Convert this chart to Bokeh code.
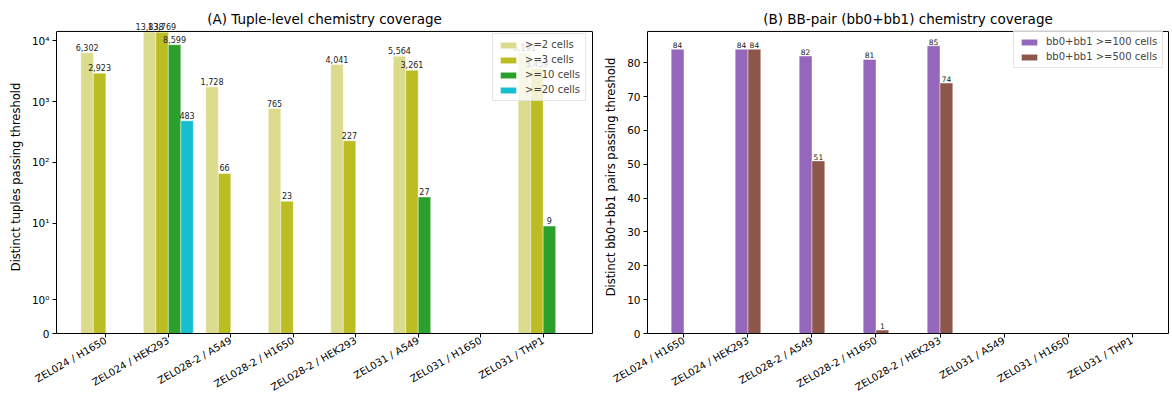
import numpy as np
from bokeh.plotting import figure
from bokeh.models import (ColumnDataSource, FixedTicker, LabelSet, Legend,
                          LegendItem, Range1d, Span, LinearAxis)
from bokeh.core.properties import value
from bokeh.layouts import row
from bokeh.embed import file_html
from bokeh.resources import INLINE

# ---------------- data ----------------
categories = ["ZEL024 / H1650", "ZEL024 / HEK293", "ZEL028-2 / A549",
              "ZEL028-2 / H1650", "ZEL028-2 / HEK293", "ZEL031 / A549",
              "ZEL031 / H1650", "ZEL031 / THP1"]

tuple_ge2 = [6302, 13838, 1728, 765, 4041, 5564, 0, 6191]
tuple_ge3 = [2923, 13769, 66, 23, 227, 3261, 0, 3459]
tuple_ge10 = [0, 8599, 0, 0, 0, 27, 0, 9]
tuple_ge20 = [0, 483, 0, 0, 0, 0, 0, 0]
tuple_series = [">=2 cells", ">=3 cells", ">=10 cells", ">=20 cells"]

pair_ge100 = [84, 84, 82, 81, 85, 0, 0, 0]
pair_ge500 = [0, 84, 51, 1, 74, 0, 0, 0]
pair_series = ["bb0+bb1 >=100 cells", "bb0+bb1 >=500 cells"]

left_ticks = [0, 1, 10, 100, 1000, 10000]
left_tick_labels = ["0", "10\u2070", "10\u00b9", "10\u00b2", "10\u00b3", "10\u2074"]
right_ticks = [0, 10, 20, 30, 40, 50, 60, 70, 80]

# ---------------- styling ----------------
FONT = "DejaVu Sans"
tuple_colors = ["#dbdb8d", "#bcbd22", "#2ca02c", "#17becf"]
pair_colors = ["#9467bd", "#8c564b"]

HEIGHT = 400
TOP = 20        # canvas top -> (invisible) extended frame top
BOTTOM = 66     # frame bottom -> canvas bottom
EXTRA = 11      # px of headroom above the drawn axes box for bar labels
FRAME_H = HEIGHT - TOP - BOTTOM
BOX_H = FRAME_H - EXTRA

LINTHRESH = 2.0
LINSCALE_ADJ = 1.0 / (1.0 - 1.0 / 10.0)


def symlog(v):
    v = np.asarray(v, dtype=float)
    return np.where(v <= LINTHRESH, v * LINSCALE_ADJ,
                    LINTHRESH * (LINSCALE_ADJ + np.log10(np.maximum(v, 1e-12) / LINTHRESH)))


def make_fig(title, width, xr, ytop, left, right):
    p = figure(width=width, height=HEIGHT, output_backend="svg",
               toolbar_location=None, title=title, x_range=Range1d(*xr),
               y_range=Range1d(0, ytop * FRAME_H / BOX_H),
               min_border_left=left, min_border_right=right,
               min_border_top=TOP, min_border_bottom=BOTTOM)
    p.title.text_font = FONT
    p.title.text_font_size = "13.5px"
    p.title.text_font_style = "normal"
    p.title.align = "center"
    p.title.text_color = "#000000"
    p.title.standoff = -12
    p.outline_line_color = None
    p.xgrid.visible = False
    p.ygrid.visible = False
    # right spine and top spine of the axes box
    rax = LinearAxis(bounds=(0, ytop), ticker=FixedTicker(ticks=[]),
                     major_tick_out=0, major_tick_in=0, major_label_standoff=0,
                     major_label_text_font_size="0px", axis_line_color="#000000")
    p.add_layout(rax, "right")
    p.add_layout(Span(location=ytop, dimension="width", line_color="#000000",
                      line_width=1))
    p.yaxis[0].bounds = (0, ytop)
    for ax in (p.xaxis[0], p.yaxis[0]):
        ax.axis_line_color = "#000000"
        ax.major_tick_line_color = "#000000"
        ax.major_tick_in = 0
        ax.major_tick_out = 4
        ax.minor_tick_line_color = None
        ax.major_label_text_font = FONT
        ax.major_label_text_font_size = "10.5px"
        ax.major_label_text_color = "#000000"
        ax.axis_label_text_font = FONT
        ax.axis_label_text_font_size = "11.5px"
        ax.axis_label_text_font_style = "normal"
        ax.axis_label_text_color = "#000000"
    p.yaxis[0].major_label_standoff = 3
    p.yaxis[0].axis_label_standoff = 6
    xa = p.xaxis[0]
    xa.ticker = FixedTicker(ticks=list(range(len(categories))))
    xa.major_label_overrides = {i: c for i, c in enumerate(categories)}
    xa.major_label_orientation = np.pi / 6
    xa.major_label_text_font_size = "10px"
    xa.major_label_standoff = 2
    p.background_fill_color = "white"
    p.border_fill_color = "white"
    return p


def make_legend(items, x, y):
    # (x, y): bottom-left corner of the legend box, px from the frame's bottom-left
    lg = Legend(items=items, location=(x, y))
    lg.label_text_font = FONT
    lg.label_text_font_size = "10px"
    lg.glyph_width = 20
    lg.glyph_height = 8
    lg.label_height = 10
    lg.label_standoff = 7
    lg.spacing = 4
    lg.padding = 5
    lg.margin = 0
    lg.border_line_color = "#cccccc"
    lg.border_line_width = 1
    lg.background_fill_alpha = 0.8
    return lg


idx = np.arange(len(categories), dtype=float)

# ---------------- panel A ----------------
ytop1 = float(symlog(max(tuple_ge2))) + 0.02
p1 = make_fig("(A) Tuple-level chemistry coverage", 600, (-0.79, 7.79), ytop1,
              56, 8)
p1.yaxis[0].axis_label = "Distinct tuples passing threshold"
yt = [float(t) for t in symlog(left_ticks)]
p1.yaxis[0].ticker = FixedTicker(ticks=yt)
p1.yaxis[0].major_label_overrides = {t: l for t, l in zip(yt, left_tick_labels)}

offsets4 = [-0.3, -0.1, 0.1, 0.3]
items1 = []
lab = dict(x=[], y=[], t=[])
for vals, name, col, off in zip([tuple_ge2, tuple_ge3, tuple_ge10, tuple_ge20],
                                tuple_series, tuple_colors, offsets4):
    src = ColumnDataSource(dict(x=idx + off, top=symlog(vals)))
    r = p1.vbar(x="x", top="top", width=0.2, source=src, fill_color=col,
                line_color="white", line_width=0.6, line_alpha=0.7)
    items1.append(LegendItem(label=name, renderers=[r]))
    for xi, v in zip(idx + off, vals):
        if v > 0:
            lab["x"].append(float(xi))
            lab["y"].append(float(symlog(v)))
            lab["t"].append(f"{v:,}")
p1.add_layout(LabelSet(x="x", y="y", text="t", source=ColumnDataSource(lab),
                       text_align="center", text_baseline="bottom", y_offset=2,
                       text_font=value(FONT), text_font_size=value("8px"),
                       text_color="#222222"))
p1.add_layout(make_legend(items1, 436, BOX_H - 4 - 67))

# ---------------- panel B ----------------
ytop2 = max(pair_ge100) * 1.05
p2 = make_fig("(B) BB-pair (bb0+bb1) chemistry coverage", 570, (-0.57, 7.57),
              ytop2, 47, 2)
p2.yaxis[0].axis_label = "Distinct bb0+bb1 pairs passing threshold"
p2.yaxis[0].ticker = FixedTicker(ticks=right_ticks)

offsets2 = [-0.1, 0.1]
items2 = []
lab2 = dict(x=[], y=[], t=[])
for vals, name, col, off in zip([pair_ge100, pair_ge500], pair_series,
                                pair_colors, offsets2):
    src = ColumnDataSource(dict(x=idx + off, top=vals))
    r = p2.vbar(x="x", top="top", width=0.2, source=src, fill_color=col,
                line_color="white", line_width=0.6, line_alpha=0.7)
    items2.append(LegendItem(label=name, renderers=[r]))
    for xi, v in zip(idx + off, vals):
        if v > 0:
            lab2["x"].append(float(xi))
            lab2["y"].append(float(v))
            lab2["t"].append(f"{v:,}")
p2.add_layout(LabelSet(x="x", y="y", text="t", source=ColumnDataSource(lab2),
                       text_align="center", text_baseline="bottom", y_offset=1,
                       text_font=value(FONT), text_font_size=value("7.5px"),
                       text_color="#222222"))
p2.add_layout(make_legend(items2, 366, BOX_H - 5 - 33))

layout = row(p1, p2)
open("out.html", "w").write(file_html(layout, INLINE))
